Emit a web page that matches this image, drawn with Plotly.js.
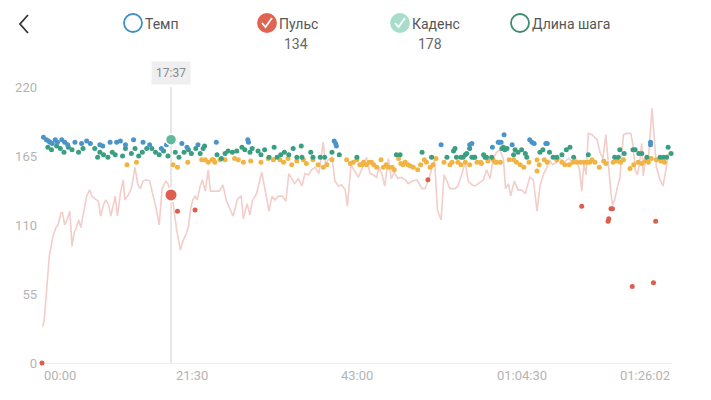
<!DOCTYPE html>
<html><head><meta charset="utf-8">
<script src="https://cdn.plot.ly/plotly-3.0.1.min.js"></script>
<style>html,body{margin:0;padding:0;background:#fff;}#chart{width:711px;height:400px;}</style>
</head><body><div id="chart"></div>
<script>
// ---- data (time in minutes, values in bpm / steps per minute) ----
const hrLine = [[0.1,29],[0.3,34],[0.6,56],[1.0,85],[1.5,101],[1.9,108],[2.2,110],[2.6,120],[2.8,120],[3.1,110],[3.4,114],[3.8,121],[4.1,93],[4.4,104],[4.7,108],[5.0,114],[5.3,108],[5.7,122],[6.1,133],[6.5,138],[6.8,133],[7.2,131],[7.7,129],[8.0,117],[8.4,126],[8.7,130],[9.1,126],[9.4,117],[9.7,126],[10.0,133],[10.3,117],[10.7,135],[11.1,146],[11.3,130],[11.8,134],[12.2,139],[12.7,156],[13.1,142],[13.4,139],[13.8,145],[14.3,146],[14.7,145],[15.1,135],[15.6,123],[16.0,110],[16.4,139],[16.9,145],[17.2,143],[17.6,134],[17.9,127],[18.4,106],[18.9,90],[19.3,98],[19.7,103],[20.0,109],[20.3,123],[20.6,130],[20.9,133],[21.2,130],[21.6,141],[21.9,146],[22.3,137],[22.7,154],[23.0,137],[23.6,137],[24.2,137],[24.7,142],[25.2,129],[25.8,121],[26.1,117],[26.7,131],[27.2,133],[27.5,115],[28.0,127],[28.4,118],[28.7,129],[29.3,135],[30.0,152],[30.5,137],[31.0,121],[31.4,133],[31.8,130],[32.3,133],[32.8,133],[33.3,129],[33.7,151],[34.2,146],[34.5,143],[35.0,147],[35.5,141],[35.9,151],[36.4,150],[36.8,154],[37.3,156],[37.8,151],[38.4,176],[38.7,159],[39.1,162],[39.6,164],[40.0,145],[40.5,141],[40.9,142],[41.4,138],[41.7,125],[42.2,158],[42.6,154],[43.2,148],[43.7,155],[44.3,164],[44.8,151],[45.2,150],[45.7,148],[46.0,156],[46.4,151],[46.8,141],[47.3,163],[47.7,147],[48.1,152],[48.6,147],[49.1,148],[49.6,146],[50.0,143],[50.6,145],[51.2,146],[51.9,139],[52.3,139],[52.8,146],[53.6,162],[54.0,122],[54.5,114],[54.9,150],[55.3,145],[55.7,139],[56.4,139],[56.8,141],[57.3,150],[57.8,160],[58.2,145],[58.7,142],[59.1,141],[59.6,143],[60.3,146],[60.7,154],[61.2,147],[61.6,163],[62.1,168],[62.5,170],[63.0,163],[63.3,139],[63.7,143],[64.0,133],[64.5,145],[65.0,138],[65.5,138],[66.0,135],[66.6,148],[67.1,146],[67.6,121],[68.0,141],[68.5,151],[68.8,154],[69.3,162],[69.7,158],[70.3,160],[70.7,163],[71.3,160],[71.9,163],[72.5,160],[72.9,163],[73.4,154],[73.7,137],[74.0,159],[74.3,150],[74.6,183],[75.1,182],[75.5,180],[75.8,178],[76.2,168],[76.6,163],[77.0,182],[77.3,159],[77.7,135],[77.9,126],[78.2,130],[78.6,141],[78.9,147],[79.4,182],[79.8,183],[80.4,183],[80.7,174],[81.0,154],[81.3,150],[81.6,159],[81.9,175],[82.1,149],[82.5,166],[82.8,162],[83.3,203],[83.6,180],[83.9,156],[84.4,146],[84.8,141],[85.2,154],[85.5,167]];

const hrPoints = [[0,0],[18.5,121],[20.9,122],[52.7,146],[73.7,125],[77.7,123],[77.9,123],[77.4,115],[77.3,113],[83.8,113],[80.6,61],[83.5,64]];

const cadBlue = [[0.2,180],[0.6,178],[0.9,177],[1.1,176],[1.4,175],[1.8,178],[2.1,176],[2.7,178],[3.1,176],[3.5,174],[4.5,176],[5.4,175],[6.1,177],[6.6,175],[7.9,174],[8.3,173],[9.3,176],[10.2,176],[10.7,177],[11.4,174],[12.5,178],[13.8,176],[14.7,174],[16.3,171],[17.0,174],[19.1,175],[19.8,172],[21.3,174],[23.8,176],[28.1,178],[28.2,176],[39.9,177],[40.1,175],[40.2,173],[54.5,174],[58.4,174],[58.7,175],[61.5,172],[62.3,176],[62.5,176],[62.7,176],[63.1,182],[64.2,174],[66.6,178],[66.9,176],[67.2,175],[68.8,175],[69.0,175],[83.1,174],[83.1,176]];

const cadGreen = [[0.8,172],[1.3,170],[2.0,173],[2.5,171],[3.0,168],[3.6,172],[4.1,170],[5.0,168],[5.6,171],[7.2,171],[7.6,164],[7.9,168],[8.4,166],[9.0,164],[9.6,168],[10.0,166],[11.0,165],[11.4,171],[12.2,167],[12.7,171],[13.2,165],[13.7,168],[14.3,171],[15.0,171],[15.5,168],[16.0,166],[16.6,169],[17.2,165],[18.2,168],[18.7,164],[19.4,168],[20.0,170],[20.4,167],[21.0,171],[21.6,167],[22.0,171],[22.2,173],[23.9,166],[24.5,163],[25.0,167],[25.4,169],[26.0,168],[26.6,169],[27.3,172],[27.7,170],[28.4,168],[28.7,171],[29.5,169],[29.9,166],[30.4,170],[31.0,164],[31.7,172],[32.1,164],[32.6,166],[33.1,168],[33.7,166],[34.3,171],[34.8,164],[35.4,173],[35.5,164],[36.7,168],[37.0,164],[38.0,164],[38.6,164],[39.6,168],[40.6,166],[43.0,164],[48.4,166],[48.9,166],[51.9,168],[53.2,164],[55.3,164],[56.2,169],[56.4,171],[56.6,164],[57.2,164],[57.5,164],[57.8,166],[58.0,167],[58.4,171],[58.7,164],[59.0,164],[59.1,164],[60.3,166],[60.5,164],[60.7,164],[61.4,164],[62.8,171],[63.0,172],[63.2,170],[63.5,171],[64.4,166],[64.6,170],[65.0,168],[65.5,170],[66.0,167],[66.2,164],[68.0,168],[68.4,170],[69.3,168],[69.8,164],[70.3,164],[71.0,166],[71.6,170],[72.1,172],[72.6,164],[74.6,166],[78.2,164],[78.7,164],[78.9,170],[79.5,167],[80.7,170],[81.0,170],[81.5,167],[81.9,167],[82.6,164],[84.4,164],[84.9,164],[85.3,164],[85.5,172],[85.9,167]];

const cadOrange = [[11.6,158],[12.9,160],[17.9,158],[18.5,156],[19.9,160],[21.8,162],[22.3,162],[22.7,160],[23.2,162],[23.4,162],[23.6,160],[24.3,162],[25.0,162],[26.3,163],[26.8,162],[27.5,160],[28.5,161],[29.9,160],[30.9,163],[31.6,162],[32.5,162],[33.0,160],[33.6,163],[34.1,158],[34.8,161],[35.7,162],[36.1,159],[37.0,162],[37.7,158],[38.4,156],[38.9,158],[39.6,162],[41.6,162],[42.1,159],[42.5,160],[43.0,162],[43.4,158],[43.7,158],[43.9,160],[44.3,158],[44.7,160],[45.0,160],[45.3,158],[45.7,156],[46.3,162],[46.6,156],[47.0,158],[47.3,156],[47.8,156],[48.1,154],[48.7,163],[49.0,159],[49.3,158],[49.6,160],[50.0,158],[50.3,157],[50.7,156],[51.3,154],[51.7,158],[52.2,162],[52.5,160],[53.0,156],[53.4,158],[53.8,163],[54.9,160],[55.7,158],[56.0,160],[56.8,160],[57.2,158],[57.8,160],[58.4,158],[59.4,160],[59.9,160],[60.0,159],[60.9,161],[61.6,162],[61.9,160],[62.1,160],[62.6,160],[63.8,162],[64.4,162],[64.8,160],[65.3,158],[65.8,156],[66.5,160],[67.6,162],[67.6,153],[67.9,158],[68.6,162],[69.0,160],[70.3,162],[71.0,160],[71.4,158],[72.0,158],[72.5,160],[73.0,160],[73.5,160],[74.0,160],[74.4,160],[74.8,160],[75.1,162],[75.5,160],[76.1,156],[76.7,161],[77.0,159],[78.0,160],[78.5,161],[79.0,160],[79.4,162],[80.3,155],[80.8,158],[81.4,160],[81.9,159],[82.4,161],[82.8,160],[83.2,163],[83.9,162],[84.5,161],[85.0,160]];

const xEnd = 86.03;               // 01:26:02
const yTickVals = [0, 55, 110, 165, 220];
const yTickText = ['0', '55', '110', '165', '220'];
const xTickLabels = ['00:00', '21:30', '43:00', '01:04:30', '01:26:02'];
const cursorTime = 17.62;         // 17:37
const cursorLabel = '17:37';
const cursorHR = 134;
const cursorCadence = 178;
const legendNames = ['Темп', 'Пульс', 'Каденс', 'Длина шага'];

// ---- helpers: pixel position -> paper coordinate ----
const L = 42, R = 672, T = 87, B = 363;
const px = x => (x - L) / (R - L);
const py = y => (B - y) / (B - T);

const COL = {hrLine:'#f2cdc9', hrDot:'#d95f4e', blue:'#4a94c9', green:'#3a9e80', orange:'#f1b443'};

function dots(arr, color, size){
  return {type:'scatter', mode:'markers', x:arr.map(p=>p[0]), y:arr.map(p=>p[1]),
    marker:{color:color, size:size}, cliponaxis:false, hoverinfo:'skip', showlegend:false};
}

const traces = [
  {type:'scatter', mode:'lines', x:hrLine.map(p=>p[0]), y:hrLine.map(p=>p[1]),
   line:{color:COL.hrLine, width:1.6}, hoverinfo:'skip', showlegend:false},
  dots(cadOrange, COL.orange, 5),
  dots(cadGreen, COL.green, 5),
  dots(cadBlue, COL.blue, 5),
  dots(hrPoints, COL.hrDot, 5),
  {type:'scatter', mode:'markers', x:[cursorTime], y:[cursorCadence], cliponaxis:false,
   marker:{color:'#5fb99a', size:11, line:{color:'#ffffff', width:1.5}}, hoverinfo:'skip', showlegend:false},
  {type:'scatter', mode:'markers', x:[cursorTime], y:[cursorHR], cliponaxis:false,
   marker:{color:'#de5d4f', size:13, line:{color:'#ffffff', width:2}}, hoverinfo:'skip', showlegend:false}
];

// legend icons
const legendCx = [133, 267, 400, 520];
const legendStyle = [
  {fill:'rgba(0,0,0,0)', line:'#3e8fc4', check:false},
  {fill:'#e06452', line:'#e06452', check:true},
  {fill:'#a8ddcc', line:'#a8ddcc', check:true},
  {fill:'rgba(0,0,0,0)', line:'#3e8c6e', check:false}
];
const shapes = [
  {type:'line', xref:'x', yref:'paper', x0:cursorTime, x1:cursorTime, y0:0, y1:1,
   line:{color:'#cfcfcf', width:1}, layer:'below'},
  {type:'path', xref:'paper', yref:'paper',
   path:`M${px(28)},${py(15)} L${px(20)},${py(24)} L${px(28)},${py(33)}`,
   line:{color:'#333', width:1.8}}
];
const annotations = [];
legendCx.forEach((cx, i) => {
  const s = legendStyle[i];
  shapes.push({type:'circle', xref:'paper', yref:'paper',
    x0:px(cx-9), x1:px(cx+9), y0:py(32), y1:py(14),
    fillcolor:s.fill, line:{color:s.line, width:1.8}});
  if (s.check) {
    shapes.push({type:'path', xref:'paper', yref:'paper',
      path:`M${px(cx-5)},${py(23)} L${px(cx-1.5)},${py(27)} L${px(cx+5)},${py(18)}`,
      line:{color:'#ffffff', width:1.8}});
  }
  annotations.push({xref:'paper', yref:'paper', x:px(cx+10), y:py(24), xanchor:'left', yanchor:'middle',
    text:legendNames[i], showarrow:false, font:{family:'Roboto, sans-serif', size:14, color:'#555'}});
});
annotations.push({xref:'paper', yref:'paper', x:px(296), y:py(44), xanchor:'center', yanchor:'middle',
  text:String(cursorHR), showarrow:false, font:{family:'Roboto, sans-serif', size:14, color:'#666'}});
annotations.push({xref:'paper', yref:'paper', x:px(430), y:py(44), xanchor:'center', yanchor:'middle',
  text:String(cursorCadence), showarrow:false, font:{family:'Roboto, sans-serif', size:14, color:'#666'}});
// cursor label
annotations.push({xref:'x', yref:'paper', x:cursorTime, y:py(73), xanchor:'center', yanchor:'middle',
  text:cursorLabel, showarrow:false, bgcolor:'#efefef', borderpad:4,
  font:{family:'Roboto, sans-serif', size:12, color:'#888'}});
// x tick labels
const xTickPos = [[px(42),'left'],[px(192),'center'],[px(357),'center'],[px(522),'center'],[px(672),'right']];
xTickLabels.forEach((t, i) => {
  annotations.push({xref:'paper', yref:'paper', x:xTickPos[i][0], y:py(375), xanchor:xTickPos[i][1], yanchor:'middle',
    text:t, showarrow:false, font:{family:'Roboto, sans-serif', size:13, color:'#b4b4b4'}});
});

const layout = {
  width:711, height:400,
  margin:{l:L, r:711-R, t:T, b:400-B, pad:0},
  paper_bgcolor:'#ffffff', plot_bgcolor:'#ffffff',
  showlegend:false, hovermode:false,
  font:{family:'Roboto, sans-serif'},
  xaxis:{range:[0, xEnd], showticklabels:false, showgrid:false, zeroline:false, showline:false, ticks:'', fixedrange:true},
  yaxis:{range:[0, 220], tickvals:yTickVals, ticktext:yTickText, showgrid:false, zeroline:true,
    zerolinecolor:'#eeeeee', zerolinewidth:1, showline:false, ticks:'', ticklabelstandoff:4,
    tickfont:{family:'Roboto, sans-serif', size:13, color:'#b4b4b4'}, fixedrange:true},
  shapes:shapes, annotations:annotations
};

Plotly.newPlot('chart', traces, layout, {displayModeBar:false, staticPlot:true});
</script></body></html>
